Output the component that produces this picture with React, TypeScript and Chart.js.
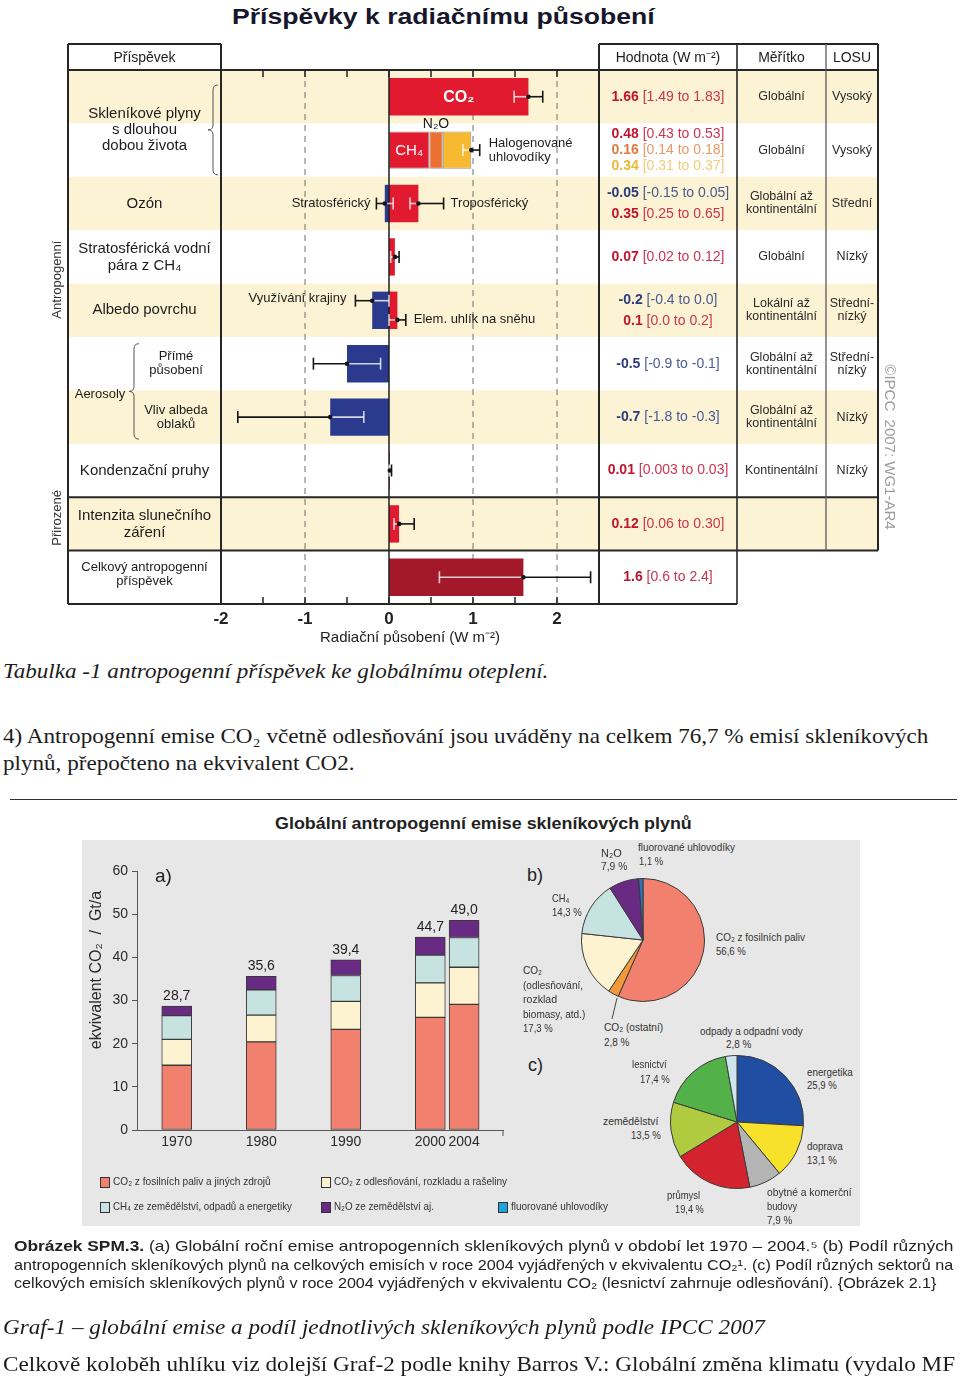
import React, { useEffect, useLayoutEffect, useRef, useState } from "react";
import { Chart, registerables } from "chart.js";

Chart.register(...registerables);

const SANS = '"Liberation Sans", Arial, Helvetica, sans-serif';
const NARROW = '"Liberation Sans Narrow", "Arial Narrow", "Liberation Sans", Arial, sans-serif';
const SERIF = '"Liberation Serif", "Times New Roman", Times, serif';

/* ================= Figure 1 – radiative forcing (IPCC AR4) ================= */
const forcingRows = [
  "CO₂",
  "CH₄, N₂O, halogenované uhlovodíky",
  "Ozón",
  "Stratosférická vodní pára z CH₄",
  "Albedo povrchu",
  "Aerosoly – přímé působení",
  "Aerosoly – vliv albeda oblaků",
  "Kondenzační pruhy",
  "Intenzita slunečního záření",
  "Celkový antropogenní příspěvek",
];
const forcingTicks = [-2, -1, 0, 1, 2];
const forcingComponents = [
  "CO₂", "CH₄", "N₂O", "Halogenované uhlovodíky", "Stratosférický ozón", "Troposférický ozón",
  "Stratosférická vodní pára", "Využívání krajiny", "Elem. uhlík na sněhu", "Přímé působení aerosolů",
  "Vliv albeda oblaků", "Kondenzační pruhy", "Intenzita slunečního záření", "Celkový antropogenní příspěvek",
];
const forcingRowOf = [0, 1, 1, 1, 2, 2, 3, 4, 4, 5, 6, 7, 8, 9];
const forcingValue = [1.66, 0.48, 0.16, 0.34, -0.05, 0.35, 0.07, -0.2, 0.1, -0.5, -0.7, 0.01, 0.12, 1.6];
const forcingLow = [1.49, 0.43, 0.14, 0.31, -0.15, 0.25, 0.02, -0.4, 0.0, -0.9, -1.8, 0.003, 0.06, 0.6];
const forcingHigh = [1.83, 0.53, 0.18, 0.37, 0.05, 0.65, 0.12, 0.0, 0.2, -0.1, -0.3, 0.03, 0.3, 2.4];
const forcingStackedRows = [1];
const forcingValueText = ["1.66", "0.48", "0.16", "0.34", "-0.05", "0.35", "0.07", "-0.2", "0.1", "-0.5", "-0.7", "0.01", "0.12", "1.6"];
const forcingRangeText = [
  "[1.49 to 1.83]", "[0.43 to 0.53]", "[0.14 to 0.18]", "[0.31 to 0.37]", "[-0.15 to 0.05]", "[0.25 to 0.65]",
  "[0.02 to 0.12]", "[-0.4 to 0.0]", "[0.0 to 0.2]", "[-0.9 to -0.1]", "[-1.8 to -0.3]", "[0.003 to 0.03]",
  "[0.06 to 0.30]", "[0.6 to 2.4]",
];
const forcingSpatialScale = [
  "Globální", "Globální", "Globální až\nkontinentální", "Globální", "Lokální až\nkontinentální",
  "Globální až\nkontinentální", "Globální až\nkontinentální", "Kontinentální", "", "",
];
const forcingLosu = ["Vysoký", "Vysoký", "Střední", "Nízký", "Střední-\nnízký", "Střední-\nnízký", "Nízký", "Nízký", "", ""];
const forcingRowCaptions = [
  "", "", "Ozón", "Stratosférická vodní\npára z CH₄", "Albedo povrchu", "Přímé\npůsobení",
  "Vliv albeda\noblaků", "Kondenzační pruhy", "Intenzita slunečního\nzáření", "Celkový antropogenní\npříspěvek",
];

/* styles */
const RED = "#e11a30";
const BLUE = "#2c3a8d";
const ORANGE = "#ea7132";
const YELLOW = "#f6b930";
const DARKRED = "#a4182b";
const CREAM = "#fbf3d3";
const forcingColor = [RED, RED, ORANGE, YELLOW, BLUE, RED, RED, BLUE, RED, BLUE, BLUE, RED, RED, DARKRED];
const TEXT_COL: Record<string, [string, string]> = {
  [RED]: ["#c1142e", "#cc3452"],
  [BLUE]: ["#2b3a7a", "#4a5a94"],
  [ORANGE]: ["#df7a40", "#e89868"],
  [YELLOW]: ["#ecb83a", "#f1cd78"],
  [DARKRED]: ["#b3182e", "#c23550"],
};

/* derived: stacking base and error bars */
const forcingBase = forcingValue.map((_, k) => {
  if (!forcingStackedRows.includes(forcingRowOf[k])) return 0;
  let s = 0;
  for (let j = 0; j < k; j++) if (forcingRowOf[j] === forcingRowOf[k]) s += forcingValue[j];
  return s;
});
type EB = { row: number; comp: number; center: number; low: number; high: number };
const forcingErrorBars: EB[] = (() => {
  const out: EB[] = [];
  const done = new Set<number>();
  forcingComponents.forEach((_, k) => {
    const r = forcingRowOf[k];
    if (forcingStackedRows.includes(r)) {
      if (done.has(r)) return;
      done.add(r);
      const ks = forcingComponents.map((__, j) => j).filter((j) => forcingRowOf[j] === r);
      const sum = (a: number[]) => ks.reduce((s, j) => s + a[j], 0);
      out.push({ row: r, comp: ks[ks.length - 1], center: sum(forcingValue), low: sum(forcingLow), high: sum(forcingHigh) });
    } else {
      out.push({ row: r, comp: k, center: forcingValue[k], low: forcingLow[k], high: forcingHigh[k] });
    }
  });
  return out;
})();

/* ================= Figure 2 – global GHG emissions ================= */
const emissionYears = [1970, 1980, 1990, 2000, 2004];
const emissionFossilCO2 = [15.0, 20.4, 23.3, 26.1, 29.1];
const emissionDeforestCO2 = [6.0, 6.2, 6.5, 8.0, 8.6];
const emissionCH4 = [5.5, 5.9, 6.0, 6.4, 6.9];
const emissionN2O = [2.2, 3.1, 3.6, 4.2, 4.0];
const emissionTotals = [28.7, 35.6, 39.4, 44.7, 49.0];
const emissionLegend = [
  "CO₂ z fosilních paliv a jiných zdrojů",
  "CO₂ z odlesňování, rozkladu a rašeliny",
  "CH₄ ze zemědělství, odpadů a energetiky",
  "N₂O ze zemědělství aj.",
  "fluorované uhlovodíky",
];
const emissionSeries = [emissionFossilCO2, emissionDeforestCO2, emissionCH4, emissionN2O];

const gasShareLabels = ["CO₂ z fosilních paliv", "CO₂ (ostatní)", "CO₂ (odlesňování, rozklad biomasy, atd.)", "CH₄", "N₂O", "fluorované uhlovodíky"];
const gasShareValues = [56.6, 2.8, 17.3, 14.3, 7.9, 1.1];
const sectorLabels = ["energetika", "doprava", "obytné a komerční budovy", "průmysl", "zemědělství", "lesnictví", "odpady a odpadní vody"];
const sectorValues = [25.9, 13.1, 7.9, 19.4, 13.5, 17.4, 2.8];

const SALMON = "#f2806f";
const CREAM2 = "#fdf3d0";
const TEAL = "#c6e3e1";
const PURPLE = "#682a83";
const FBLUE = "#1ea3dd";
const emissionColors = [SALMON, CREAM2, TEAL, PURPLE, FBLUE];
const gasShareColors = [SALMON, "#f29a3a", CREAM2, TEAL, PURPLE, "#2a74b8"];
const sectorColors = ["#1f4ea2", "#f7e12b", "#b4b4b4", "#d2232e", "#b1cb40", "#53b14a", "#cfe5ee"];

const pct = (v: number) => v.toFixed(1).replace(".", ",") + " %";

/* ================= drawing helpers ================= */
function line(ctx: CanvasRenderingContext2D, x1: number, y1: number, x2: number, y2: number) {
  ctx.beginPath();
  ctx.moveTo(x1, y1);
  ctx.lineTo(x2, y2);
  ctx.stroke();
}
type TxtOpt = { size?: number; weight?: string; color?: string; align?: CanvasTextAlign; font?: string };
function txt(ctx: CanvasRenderingContext2D, s: string, x: number, y: number, o: TxtOpt = {}) {
  ctx.font = `${o.weight || "normal"} ${o.size || 15}px ${o.font || SANS}`;
  ctx.fillStyle = o.color || "#1c1c1c";
  ctx.textAlign = o.align || "center";
  ctx.textBaseline = "middle";
  ctx.fillText(s, x, y);
}
function multi(ctx: CanvasRenderingContext2D, s: string, x: number, y: number, lh: number, o: TxtOpt = {}) {
  const ls = s.split("\n");
  ls.forEach((l, i) => txt(ctx, l, x, y + (i - (ls.length - 1) / 2) * lh, o));
}
function brace(ctx: CanvasRenderingContext2D, x: number, top: number, bottom: number, d: number) {
  const mid = (top + bottom) / 2;
  ctx.beginPath();
  ctx.moveTo(x + d, top);
  ctx.quadraticCurveTo(x, top, x, top + d);
  ctx.lineTo(x, mid - d);
  ctx.quadraticCurveTo(x, mid, x - d, mid);
  ctx.quadraticCurveTo(x, mid, x, mid + d);
  ctx.lineTo(x, bottom - d);
  ctx.quadraticCurveTo(x, bottom, x + d, bottom);
  ctx.stroke();
}

const BAR_PCT = 0.7;
const HEADER_TOP = 4; // canvas y of table header top
const COLX = { left: 68, value: 737, scale: 826, losu: 878 };

const fig1Plugin = {
  id: "fig1",
  beforeDatasetsDraw(chart: any) {
    const { ctx, chartArea: ca } = chart;
    const x = chart.scales.x;
    const y = chart.scales.y;
    const n = forcingRows.length;
    const rowH = (ca.bottom - ca.top) / n;
    ctx.save();
    for (let r = 0; r < n; r += 2) {
      const c = y.getPixelForValue(r);
      const right = r === n - 1 ? COLX.value : COLX.losu;
      ctx.fillStyle = CREAM;
      ctx.fillRect(COLX.left, c - rowH / 2, right - COLX.left, rowH);
    }
    ctx.strokeStyle = "#707070";
    ctx.lineWidth = 1;
    ctx.setLineDash([6, 5]);
    forcingTicks.forEach((v) => {
      if (v === 0) return;
      const px = x.getPixelForValue(v);
      if (px <= ca.left + 2) return;
      line(ctx, px, ca.top, px, ca.bottom);
    });
    ctx.restore();
  },
  afterDatasetsDraw(chart: any) {
    const { ctx, chartArea: ca } = chart;
    const xs = chart.scales.x;
    const ys = chart.scales.y;
    const X = (v: number) => xs.getPixelForValue(v);
    const n = forcingRows.length;
    const rowH = (ca.bottom - ca.top) / n;
    const barH = rowH * BAR_PCT;
    const rowC = (r: number) => ys.getPixelForValue(r);
    const rowTop = (r: number) => rowC(r) - rowH / 2;
    const rowBot = (r: number) => rowC(r) + rowH / 2;
    ctx.save();

    // zero line
    ctx.strokeStyle = "#1e1e1e";
    ctx.lineWidth = 1.5;
    line(ctx, X(0), ca.top, X(0), ca.bottom);

    // error bars
    const lane: Record<number, number> = { 7: -0.18, 8: 0.18 };
    const DARK = "#151515";
    const LIGHT = "rgba(255,255,255,0.78)";
    forcingErrorBars.forEach((eb) => {
      const yy = rowC(eb.row) + (lane[eb.comp] || 0) * rowH;
      const intervals = forcingComponents
        .map((_, k) => k)
        .filter((k) => forcingRowOf[k] === eb.row)
        .map((k) => {
          const a = forcingBase[k];
          const b = forcingBase[k] + forcingValue[k];
          return [Math.min(a, b), Math.max(a, b)];
        });
      const inside = (v: number) => intervals.some(([a, b]) => v > a && v < b);
      const cuts = [eb.low, eb.high, ...intervals.flat().filter((v) => v > eb.low && v < eb.high)].sort((a, b) => a - b);
      ctx.lineWidth = 1.6;
      for (let i = 0; i < cuts.length - 1; i++) {
        const a = cuts[i];
        const b = cuts[i + 1];
        ctx.strokeStyle = inside((a + b) / 2) ? LIGHT : DARK;
        line(ctx, X(a), yy, X(b), yy);
      }
      [eb.low, eb.high].forEach((v, j) => {
        const probe = j === 0 ? v + 1e-4 : v - 1e-4;
        ctx.strokeStyle = inside(probe) ? LIGHT : DARK;
        line(ctx, X(v), yy - 6, X(v), yy + 6);
      });
      ctx.fillStyle = DARK;
      ctx.beginPath();
      ctx.arc(X(eb.center), yy, 2.3, 0, Math.PI * 2);
      ctx.fill();
    });

    // minor ticks at top and bottom of plot
    ctx.strokeStyle = "#222";
    ctx.lineWidth = 1.5;
    for (let v = xs.min + 0.5; v < xs.max - 1e-9; v += 0.5) {
      const px = X(v);
      line(ctx, px, ca.top, px, ca.top + 7);
      line(ctx, px, ca.bottom, px, ca.bottom - 7);
    }

    // table lines
    ctx.strokeStyle = "#262626";
    ctx.lineWidth = 2;
    line(ctx, COLX.left, HEADER_TOP, ca.left, HEADER_TOP);
    line(ctx, ca.right, HEADER_TOP, COLX.losu, HEADER_TOP);
    line(ctx, COLX.left, HEADER_TOP, COLX.left, ca.bottom);
    line(ctx, ca.left, HEADER_TOP, ca.left, ca.bottom);
    line(ctx, ca.right, HEADER_TOP, ca.right, ca.bottom);
    line(ctx, COLX.losu, HEADER_TOP, COLX.losu, rowBot(8));
    line(ctx, COLX.left, ca.top, COLX.losu, ca.top);
    line(ctx, COLX.left, rowBot(7), COLX.losu, rowBot(7));
    line(ctx, COLX.left, rowBot(8), COLX.losu, rowBot(8));
    line(ctx, COLX.left, ca.bottom, COLX.value, ca.bottom);
    ctx.lineWidth = 1.6;
    line(ctx, COLX.value, HEADER_TOP, COLX.value, ca.bottom);
    ctx.strokeStyle = "#5a5a5a";
    ctx.lineWidth = 1.3;
    line(ctx, COLX.scale, HEADER_TOP, COLX.scale, rowBot(8));

    // headers
    const hy = (HEADER_TOP + ca.top) / 2 + 1;
    const cLab = (COLX.left + ca.left) / 2;
    const cVal = (ca.right + COLX.value) / 2;
    const cSc = (COLX.value + COLX.scale) / 2;
    const cLo = (COLX.scale + COLX.losu) / 2;
    txt(ctx, "Příspěvek", cLab, hy, { size: 14 });
    txt(ctx, "Hodnota (W m⁻²)", cVal, hy, { size: 14 });
    txt(ctx, "Měřítko", cSc, hy, { size: 14 });
    txt(ctx, "LOSU", cLo, hy, { size: 14 });

    // bar annotations
    const cx = (k: number) => X(forcingBase[k] + forcingValue[k] / 2);
    const ebFor = (k: number) => forcingErrorBars.find((e) => e.comp === k)!;
    txt(ctx, "CO₂", cx(0), rowC(0) + 1, { size: 16, weight: "bold", color: "#fff" });
    txt(ctx, "CH₄", cx(1), rowC(1) + 1, { size: 15, color: "#fff" });
    txt(ctx, "N₂O", cx(2), rowC(1) - barH / 2 - 7, { size: 14 });
    const halo = ebFor(3);
    multi(ctx, "Halogenované\nuhlovodíky", X(halo.high) + 9, rowC(1), 14, { size: 13, align: "left" });
    txt(ctx, "Stratosférický", X(ebFor(4).low) - 6, rowC(2), { size: 13, align: "right" });
    txt(ctx, "Troposférický", X(ebFor(5).high) + 7, rowC(2), { size: 13, align: "left" });
    txt(ctx, "Využívání krajiny", X(ebFor(7).low) - 9, rowC(4) + lane[7] * rowH - 2, { size: 13, align: "right" });
    txt(ctx, "Elem. uhlík na sněhu", X(ebFor(8).high) + 8, rowC(4) + lane[8] * rowH, { size: 13, align: "left" });

    // left label column
    ctx.strokeStyle = "#555";
    ctx.lineWidth = 1;
    const gMid = (rowTop(0) + rowBot(1)) / 2 + 6;
    multi(ctx, "Skleníkové plyny\ns dlouhou\ndobou života", cLab, gMid, 16, { size: 15 });
    brace(ctx, 213, rowTop(0) + 15, rowBot(1) - 2, 5);
    forcingRowCaptions.forEach((cap, r) => {
      if (!cap) return;
      if (r === 5 || r === 6) multi(ctx, cap, 176, rowC(r), 14, { size: 13 });
      else if (r === n - 1) multi(ctx, cap, cLab, rowC(r) - 3, 14, { size: 13 });
      else multi(ctx, cap, cLab, rowC(r), 17, { size: 15 });
    });
    txt(ctx, "Aerosoly", 100, rowBot(5) + 4, { size: 13 });
    brace(ctx, 134, rowC(5) - 20, rowC(6) + 22, 5);

    // vertical group labels
    ctx.save();
    ctx.translate(57, rowBot(3) - 4);
    ctx.rotate(-Math.PI / 2);
    txt(ctx, "Antropogenní", 0, 0, { size: 13, color: "#333" });
    ctx.restore();
    ctx.save();
    ctx.translate(57, rowC(8) - 6);
    ctx.rotate(-Math.PI / 2);
    txt(ctx, "Přirozené", 0, 0, { size: 13, color: "#333" });
    ctx.restore();

    // value column
    for (let r = 0; r < n; r++) {
      const ks = forcingComponents.map((_, k) => k).filter((k) => forcingRowOf[k] === r);
      const offs = ks.length === 1 ? [0] : ks.length === 2 ? [-10.5, 10.5] : [-16, 0, 16];
      ks.forEach((k, i) => {
        const [c1, c2] = TEXT_COL[forcingColor[k]];
        const yv = rowC(r) + offs[i];
        ctx.font = `bold 14px ${SANS}`;
        const a = forcingValueText[k] + " ";
        const w1 = ctx.measureText(a).width;
        ctx.font = `normal 14px ${SANS}`;
        const w2 = ctx.measureText(forcingRangeText[k]).width;
        const start = cVal - (w1 + w2) / 2;
        txt(ctx, a, start, yv, { size: 14, weight: "bold", color: c1, align: "left" });
        txt(ctx, forcingRangeText[k], start + w1, yv, { size: 14, color: c2, align: "left" });
      });
      if (forcingSpatialScale[r]) multi(ctx, forcingSpatialScale[r], cSc, rowC(r), 13, { size: 12.5, color: "#2a2a2a" });
      if (forcingLosu[r]) multi(ctx, forcingLosu[r], cLo, rowC(r), 13, { size: 12.5, color: "#2a2a2a" });
    }

    // copyright
    ctx.save();
    ctx.translate(889, 407);
    ctx.rotate(Math.PI / 2);
    txt(ctx, "©IPCC  2007: WG1-AR4", 0, 0, { size: 15, color: "#9c9c9c" });
    ctx.restore();

    ctx.restore();
  },
};

function Fig1() {
  const ref = useRef<HTMLCanvasElement>(null);
  useEffect(() => {
    const chart = new Chart(ref.current as HTMLCanvasElement, {
      type: "bar",
      data: {
        labels: forcingRows,
        datasets: forcingComponents.map((name, k) => ({
          label: name,
          data: forcingRows.map((_, r) => {
            if (r !== forcingRowOf[k]) return null;
            const a = forcingBase[k];
            const b = forcingBase[k] + forcingValue[k];
            return [Math.min(a, b), Math.max(a, b)];
          }),
          backgroundColor: forcingColor[k],
          borderColor: "rgba(40,10,10,0.45)",
          borderWidth: forcingStackedRows.includes(forcingRowOf[k]) ? 1 : 0,
          borderSkipped: false,
          grouped: false,
          barPercentage: BAR_PCT,
          categoryPercentage: 1,
        })) as any,
      },
      options: {
        indexAxis: "y",
        responsive: false,
        animation: false,
        devicePixelRatio: 1,
        layout: { padding: { left: 221, right: 361, top: 30, bottom: 0 } },
        plugins: { legend: { display: false }, tooltip: { enabled: false }, title: { display: false } },
        scales: {
          x: {
            type: "linear",
            min: -2,
            max: 2.5,
            position: "bottom",
            grid: { display: false, drawTicks: false },
            border: { display: false },
            afterBuildTicks: (s: any) => {
              s.ticks = forcingTicks.map((v) => ({ value: v }));
            },
            afterFit: (s: any) => {
              s.height = 46;
            },
            ticks: { font: { size: 17, weight: "bold", family: SANS }, color: "#222", padding: 5, maxRotation: 0, autoSkip: false },
            title: {
              display: true,
              text: "Radiační působení (W m⁻²)",
              font: { size: 15, family: SANS },
              color: "#222",
              padding: { top: 0, bottom: 3 },
            },
          },
          y: { type: "category", display: false, offset: true },
        },
      } as any,
      plugins: [fig1Plugin],
    });
    return () => chart.destroy();
  }, []);
  return <canvas ref={ref} width={960} height={610} style={{ position: "absolute", left: 0, top: 40, width: 960, height: 610 }} />;
}

const fig2aPlugin = {
  id: "fig2a",
  afterDatasetsDraw(chart: any) {
    const { ctx, chartArea: ca } = chart;
    const x = chart.scales.x;
    const y = chart.scales.y;
    ctx.save();
    emissionYears.forEach((yr, i) => {
      const top = emissionSeries.reduce((s, arr) => s + arr[i], 0);
      txt(ctx, emissionTotals[i].toFixed(1).replace(".", ","), x.getPixelForValue(yr), y.getPixelForValue(top) - 10, { size: 14, color: "#222" });
    });
    txt(ctx, "a)", ca.left + 18, ca.top + 6, { size: 19, align: "left", color: "#222" });
    ctx.strokeStyle = "#555";
    ctx.lineWidth = 1;
    line(ctx, ca.right, ca.bottom, ca.right, ca.bottom + 6);
    ctx.translate(15, 125);
    ctx.rotate(-Math.PI / 2);
    txt(ctx, "ekvivalent CO₂  /  Gt/a", 0, 0, { size: 16, color: "#2a2a2a" });
    ctx.restore();
  },
};

function Fig2a() {
  const ref = useRef<HTMLCanvasElement>(null);
  useEffect(() => {
    const chart = new Chart(ref.current as HTMLCanvasElement, {
      type: "bar",
      data: {
        datasets: emissionSeries.map((vals, s) => ({
          label: emissionLegend[s],
          data: emissionYears.map((yr, i) => ({ x: yr, y: vals[i] })),
          backgroundColor: emissionColors[s],
          borderColor: "#3a3a3a",
          borderWidth: 1,
          borderSkipped: false,
          barThickness: 30,
          stack: "a",
        })) as any,
      },
      options: {
        responsive: false,
        animation: false,
        devicePixelRatio: 1,
        layout: { padding: { left: 0, right: 9, top: 26, bottom: 0 } },
        plugins: { legend: { display: false }, tooltip: { enabled: false } },
        scales: {
          x: {
            type: "linear",
            min: 1965.3,
            max: 2008.6,
            offset: false,
            stacked: true,
            grid: { display: false, drawTicks: false },
            border: { display: true, color: "#555", width: 1 },
            afterBuildTicks: (s: any) => {
              s.ticks = emissionYears.map((v) => ({ value: v }));
            },
            afterFit: (s: any) => {
              s.height = 25;
            },
            ticks: { callback: (v: any) => String(v), font: { size: 14, family: SANS }, color: "#2a2a2a", padding: 4, maxRotation: 0, autoSkip: false },
          },
          y: {
            type: "linear",
            min: 0,
            max: 60,
            stacked: true,
            afterFit: (s: any) => {
              s.width = 55;
            },
            grid: { display: true, drawOnChartArea: false, drawTicks: true, tickLength: 5, color: "#555" },
            border: { display: true, color: "#555", width: 1 },
            ticks: { stepSize: 10, font: { size: 14, family: SANS }, color: "#2a2a2a", padding: 4 },
          },
        },
      } as any,
      plugins: [fig2aPlugin],
    });
    return () => chart.destroy();
  }, []);
  return <canvas ref={ref} width={430} height={310} style={{ position: "absolute", left: 82, top: 845, width: 430, height: 310 }} />;
}

function PieChart({ left, top, size, values, labels, colors }: { left: number; top: number; size: number; values: number[]; labels: string[]; colors: string[] }) {
  const ref = useRef<HTMLCanvasElement>(null);
  useEffect(() => {
    const chart = new Chart(ref.current as HTMLCanvasElement, {
      type: "pie",
      data: { labels, datasets: [{ data: values, backgroundColor: colors, borderColor: "#3a3a3a", borderWidth: 1 }] },
      options: {
        responsive: false,
        animation: false,
        devicePixelRatio: 1,
        plugins: { legend: { display: false }, tooltip: { enabled: false } },
      } as any,
    });
    return () => chart.destroy();
  }, []);
  return <canvas ref={ref} width={size} height={size} style={{ position: "absolute", left, top, width: size, height: size }} />;
}

/* ================= HTML text helper ================= */
type TP = {
  x: number;
  y: number;
  w?: number;
  size: number;
  font?: string;
  weight?: string | number;
  italic?: boolean;
  color?: string;
  children: React.ReactNode;
};
function T({ x, y, w, size, font = SANS, weight = "normal", italic = false, color = "#1c1c1c", children }: TP) {
  const ref = useRef<HTMLSpanElement>(null);
  const [sx, setSx] = useState(1);
  useLayoutEffect(() => {
    if (!w || !ref.current) return;
    const nat = ref.current.offsetWidth;
    if (nat > 0) setSx(w / nat);
  }, [w]);
  return (
    <span
      ref={ref}
      style={{
        position: "absolute",
        left: x,
        top: y - size * 0.6,
        display: "block",
        fontFamily: font,
        fontSize: size,
        lineHeight: `${size * 1.2}px`,
        fontWeight: weight as any,
        fontStyle: italic ? "italic" : "normal",
        color,
        whiteSpace: "nowrap",
        transform: `scaleX(${sx})`,
        transformOrigin: "0 50%",
      }}
    >
      {children}
    </span>
  );
}

type PL = { i: number; lines: { t: string; x: number; w: number }[]; y: number; lh: number; pctX: number; pctW: number };
const pieBText: PL[] = [
  { i: 0, lines: [{ t: "CO₂ z fosilních paliv", x: 716, w: 89 }], y: 938, lh: 14, pctX: 716, pctW: 30 },
  { i: 1, lines: [{ t: "CO₂ (ostatní)", x: 604, w: 59 }], y: 1028, lh: 15, pctX: 604, pctW: 25 },
  {
    i: 2,
    lines: [
      { t: "CO₂", x: 523, w: 19 },
      { t: "(odlesňování,", x: 523, w: 60 },
      { t: "rozklad", x: 523, w: 34 },
      { t: "biomasy, atd.)", x: 523, w: 62 },
    ],
    y: 971,
    lh: 14.5,
    pctX: 523,
    pctW: 30,
  },
  { i: 3, lines: [{ t: "CH₄", x: 552, w: 17 }], y: 899, lh: 14, pctX: 552, pctW: 30 },
  { i: 4, lines: [{ t: "N₂O", x: 601, w: 21 }], y: 854, lh: 13, pctX: 601, pctW: 26 },
  { i: 5, lines: [{ t: "fluorované uhlovodíky", x: 638, w: 97 }], y: 848, lh: 13.5, pctX: 639, pctW: 24 },
];
const pieCText: PL[] = [
  { i: 0, lines: [{ t: "energetika", x: 807, w: 46 }], y: 1073, lh: 13, pctX: 807, pctW: 30 },
  { i: 1, lines: [{ t: "doprava", x: 807, w: 36 }], y: 1147, lh: 14, pctX: 807, pctW: 30 },
  {
    i: 2,
    lines: [
      { t: "obytné a komerční", x: 767, w: 85 },
      { t: "budovy", x: 767, w: 30 },
    ],
    y: 1193,
    lh: 14,
    pctX: 767,
    pctW: 25,
  },
  { i: 3, lines: [{ t: "průmysl", x: 667, w: 33 }], y: 1196, lh: 14, pctX: 675, pctW: 29 },
  { i: 4, lines: [{ t: "zemědělství", x: 603, w: 55 }], y: 1122, lh: 14, pctX: 631, pctW: 30 },
  { i: 5, lines: [{ t: "lesnictví", x: 632, w: 35 }], y: 1065, lh: 15, pctX: 640, pctW: 30 },
  { i: 6, lines: [{ t: "odpady a odpadní vody", x: 700, w: 103 }], y: 1032, lh: 13, pctX: 726, pctW: 25 },
];

function PieLabels({ spec, values }: { spec: PL[]; values: number[] }) {
  return (
    <>
      {spec.map((s) => (
        <React.Fragment key={s.i}>
          {s.lines.map((l, j) => (
            <T key={j} x={l.x} y={s.y + j * s.lh} w={l.w} size={11.5} font={NARROW} color="#333">
              {l.t}
            </T>
          ))}
          <T x={s.pctX} y={s.y + s.lines.length * s.lh} w={s.pctW} size={11.5} font={NARROW} color="#333">
            {pct(values[s.i])}
          </T>
        </React.Fragment>
      ))}
    </>
  );
}

const legendPos = [
  { x: 100, y: 1182, w: 158 },
  { x: 321, y: 1182, w: 173 },
  { x: 100, y: 1207, w: 179 },
  { x: 321, y: 1207, w: 100 },
  { x: 498, y: 1207, w: 97 },
];

export default function App() {
  return (
    <div style={{ position: "absolute", left: 0, top: 0, width: 960, height: 1379, background: "#fff", overflow: "hidden" }}>
      <T x={232} y={17} w={423} size={22} weight="bold" color="#17172c">
        Příspěvky k radiačnímu působení
      </T>
      <Fig1 />

      <T x={3} y={671} w={545} size={20} font={SERIF} italic>
        Tabulka -1 antropogenní příspěvek ke globálnímu oteplení.
      </T>
      <T x={3} y={737} w={925} size={21} font={SERIF}>
        4) Antropogenní emise CO₂ včetně odlesňování jsou uváděny na celkem 76,7 % emisí skleníkových
      </T>
      <T x={3} y={764} w={352} size={21} font={SERIF}>
        plynů, přepočteno na ekvivalent CO2.
      </T>
      <div style={{ position: "absolute", left: 10, top: 799, width: 947, height: 1, background: "#333" }} />

      <T x={275} y={824} w={417} size={17} weight="bold" color="#222">
        Globální antropogenní emise skleníkových plynů
      </T>
      <div style={{ position: "absolute", left: 82, top: 840, width: 778, height: 386, background: "#e7e7e7" }} />
      <Fig2a />
      <PieChart left={581} top={878} size={124} values={gasShareValues} labels={gasShareLabels} colors={gasShareColors} />
      <PieChart left={670} top={1055} size={134} values={sectorValues} labels={sectorLabels} colors={sectorColors} />
      <T x={527} y={876} size={18} color="#222">
        b)
      </T>
      <T x={528} y={1066} size={18} color="#222">
        c)
      </T>
      <PieLabels spec={pieBText} values={gasShareValues} />
      <PieLabels spec={pieCText} values={sectorValues} />
      <svg width={960} height={1379} style={{ position: "absolute", left: 0, top: 0, pointerEvents: "none" }}>
        <line x1={612} y1={1019} x2={617} y2={998} stroke="#444" strokeWidth={1} />
      </svg>
      {emissionLegend.map((name, i) => (
        <React.Fragment key={i}>
          <div
            style={{
              position: "absolute",
              left: legendPos[i].x,
              top: legendPos[i].y - 5,
              width: 8,
              height: 9,
              background: emissionColors[i],
              border: "1px solid #333",
            }}
          />
          <T x={legendPos[i].x + 13} y={legendPos[i].y} w={legendPos[i].w} size={11.5} font={NARROW} color="#333">
            {name}
          </T>
        </React.Fragment>
      ))}

      <T x={14} y={1247} w={939} size={14.5} color="#222">
        <b>Obrázek SPM.3.</b> (a) Globální roční emise antropogenních skleníkových plynů v období let 1970 – 2004.⁵ (b) Podíl různých
      </T>
      <T x={14} y={1266} w={939} size={14.5} color="#222">
        antropogenních skleníkových plynů na celkových emisích v roce 2004 vyjádřených v ekvivalentu CO₂¹. (c) Podíl různých sektorů na
      </T>
      <T x={14} y={1284} w={923} size={14.5} color="#222">
        celkových emisích skleníkových plynů v roce 2004 vyjádřených v ekvivalentu CO₂ (lesnictví zahrnuje odlesňování). {"{Obrázek 2.1}"}
      </T>
      <T x={3} y={1328} w={762} size={21} font={SERIF} italic>
        Graf-1 – globální emise a podíl jednotlivých skleníkových plynů podle IPCC 2007
      </T>
      <T x={3} y={1365} w={952} size={21} font={SERIF}>
        Celkově koloběh uhlíku viz dolejší Graf-2 podle knihy Barros V.: Globální změna klimatu (vydalo MF
      </T>
    </div>
  );
}
